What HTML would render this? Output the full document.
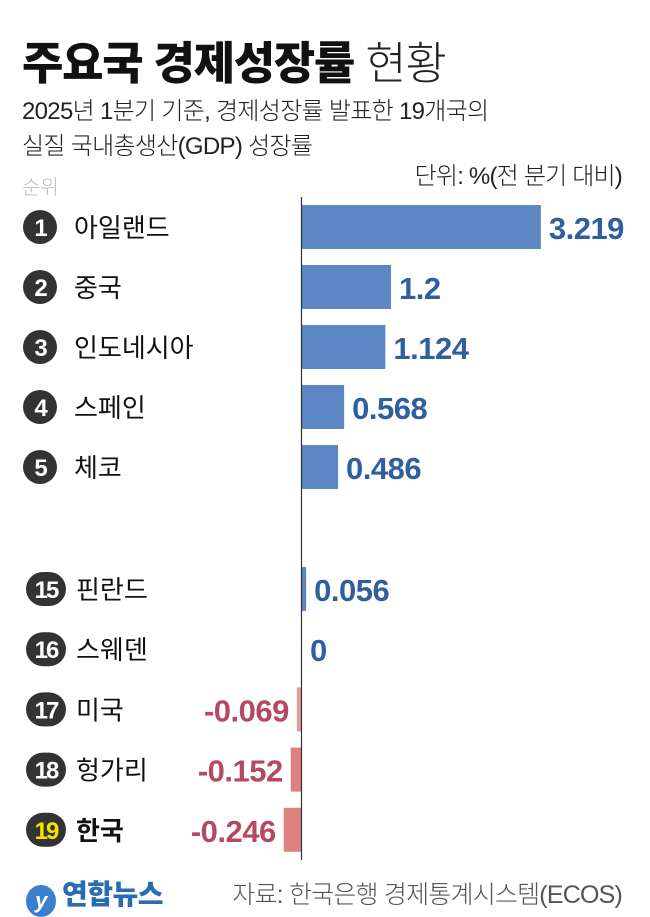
<!DOCTYPE html>
<html><head><meta charset="utf-8">
<style>
body{margin:0;width:650px;height:915px;background:#fff;overflow:hidden;font-family:"Liberation Sans","Noto Sans CJK KR",sans-serif;position:relative}
.t{position:absolute;white-space:nowrap}
</style></head>
<body>
<div class="t" style="left:22px;top:27px;font-size:45px;font-weight:900;letter-spacing:-1.3px;color:#111">주요국 경제성장률 <span style="font-weight:300;color:#222">현황</span></div>
<div class="t" style="left:22px;top:94px;font-size:24px;line-height:35px;color:#222;letter-spacing:-0.7px;font-weight:300">2025년 1분기 기준, 경제성장률 발표한 19개국의<br>실질 국내총생산(GDP) 성장률</div>
<div class="t" style="right:28px;top:156px;font-size:24px;color:#222;letter-spacing:-0.8px;font-weight:300">단위: %(전 분기 대비)</div>
<div class="t" style="left:22px;top:171px;font-size:20px;color:#bbb;font-weight:300">순위</div>
<svg id="chart" width="650" height="915" style="position:absolute;left:0;top:0"></svg>
<div class="t" style="left:26px;top:873px;font-size:28px;font-weight:900;color:#2a6bb5;letter-spacing:-0.5px"><span style="display:inline-block;width:30px;height:32px;border-radius:50%;background:#3a7fcc;color:#fff;font-size:22px;text-align:center;line-height:32px;vertical-align:-4px;font-style:italic;margin-right:6px">y</span>연합뉴스</div>
<div class="t" style="right:28px;top:875px;font-size:25px;color:#555;letter-spacing:-0.8px;font-weight:300">자료: 한국은행 경제통계시스템(ECOS)</div>
<script>
const ranks=["1","2","3","4","5","15","16","17","18","19"];
const countries=["아일랜드","중국","인도네시아","스페인","체코","핀란드","스웨덴","미국","헝가리","한국"];
const values=[3.219,1.2,1.124,0.568,0.486,0.056,0,-0.069,-0.152,-0.246];
const labels=["3.219","1.2","1.124","0.568","0.486","0.056","0","-0.069","-0.152","-0.246"];
const NS="http://www.w3.org/2000/svg";
const svg=document.getElementById('chart');
const x0=302,scale=74.2;
function xs(v){return x0+v*scale;}
function rowY(i){return i<5?227+i*60:589+(i-5)*60.2;}
function mk(t,a){const e=document.createElementNS(NS,t);for(const k in a)e.setAttribute(k,a[k]);svg.appendChild(e);return e;}
values.forEach((v,i)=>{
 const cy=rowY(i);
 const two=ranks[i].length>1;
 const w=two?40:34;
 const c=mk('rect',{x:(two?46:40)-w/2,y:cy-17,width:w,height:34,rx:17,fill:'#333'});
 
 
 const rt=mk('text',{x:two?46:40,y:cy+9,'text-anchor':'middle','font-size':24,'font-weight':700,fill:i==9?'#f5e400':'#fff','letter-spacing':-2});
 rt.textContent=ranks[i];
 
 
 const ct=mk('text',{x:two?76:74,y:cy+10,'font-size':26,'font-weight':i==9?700:400,fill:'#111'});
 ct.textContent=countries[i];
 
 
 const a=xs(Math.min(0,v)),b=xs(Math.max(0,v));
 const fill=v>=0?'#5b87c5':(v>-0.1?'#e59a9a':'#e08080');
 const r=mk('rect',{x:a,y:cy-22,width:Math.max(b-a,0),height:44,fill:fill});
 
 
 const pos=v>=0;
 const vt=mk('text',{x:pos?b+8:a-8,y:cy+12,'text-anchor':pos?'start':'end','font-size':31,'font-weight':700,fill:pos?'#2f5f9f':'#b4495f','letter-spacing':-0.5});
 vt.textContent=labels[i];
 
 
});
const ax=mk('line',{x1:x0-0.5,x2:x0-0.5,y1:197,y2:860,stroke:'#333','stroke-width':1.2});


</script>
</body></html>
